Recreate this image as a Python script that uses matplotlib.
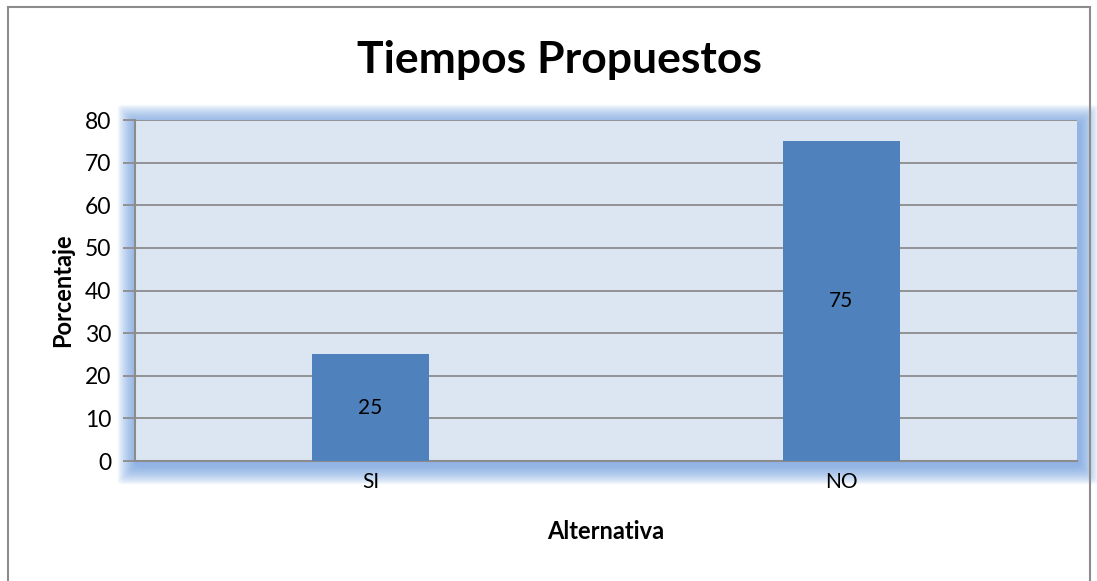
import matplotlib.pyplot as plt
from matplotlib.patches import Rectangle, FancyBboxPatch

# datos
categorias = ["SI", "NO"]
porcentajes = [25, 75]
y_ticks = [0, 10, 20, 30, 40, 50, 60, 70, 80]

plt.rcParams['font.family'] = ['Lato', 'DejaVu Sans']

W, H = 1097, 581
fig = plt.figure(figsize=(W / 100, H / 100), dpi=100, facecolor='white')

# borde exterior
fig.patches.append(Rectangle((8 / W, -0.01), (1090 - 8) / W, 1 - 7 / H + 0.01,
                             transform=fig.transFigure, fill=False,
                             edgecolor='#8C8C8C', linewidth=1.5))

# área de trazado (pixeles)
x0, x1, y0, y1 = 135, 1077, 120, 461
ax = fig.add_axes([x0 / W, 1 - y1 / H, (x1 - x0) / W, (y1 - y0) / H])
ax.set_zorder(5)

# resplandor azul alrededor del área de trazado
for i in range(16, 0, -1):
    pad = i * 1.2
    fig.patches.append(FancyBboxPatch(
        ((x0 - pad + 2) / W, 1 - (y1 + pad + 4) / H),
        (x1 - x0 + 2 * pad) / W, (y1 - y0 + 2 * pad) / H,
        boxstyle="round,pad=0,rounding_size=0.005",
        transform=fig.transFigure, facecolor='#6F9FE0',
        edgecolor='none', alpha=0.08, zorder=0))

ax.set_facecolor('#DCE6F2')
ax.bar(categorias, porcentajes, width=0.25, color='#4F81BD', zorder=3)
for i, v in enumerate(porcentajes):
    ax.text(i, v / 2, str(v), ha='center', va='center', fontsize=15, color='black', zorder=4)

ax.set_xlim(-0.5, 1.5)
ax.set_ylim(0, 80)
ax.set_yticks(y_ticks)
ax.grid(axis='y', color='#8C8C8C', linewidth=1.3, zorder=1)
ax.tick_params(axis='y', length=9, width=1.3, color='#8C8C8C', labelsize=16.5, pad=8)
ax.tick_params(axis='x', length=0, labelsize=15, pad=8)
for s in ['top', 'right']:
    ax.spines[s].set_visible(False)
for s in ['left', 'bottom']:
    ax.spines[s].set_color('#8C8C8C')
    ax.spines[s].set_linewidth(1.5)

ax.set_ylabel('Porcentaje', fontsize=17, fontweight='bold', labelpad=8)
ax.set_xlabel('Alternativa', fontsize=17, fontweight='bold', labelpad=20)
fig.text(559 / W, 1 - 60 / H, 'Tiempos Propuestos', ha='center', va='center',
         fontsize=32, fontweight='bold')

fig.savefig('out.png', dpi=100, facecolor='white')
